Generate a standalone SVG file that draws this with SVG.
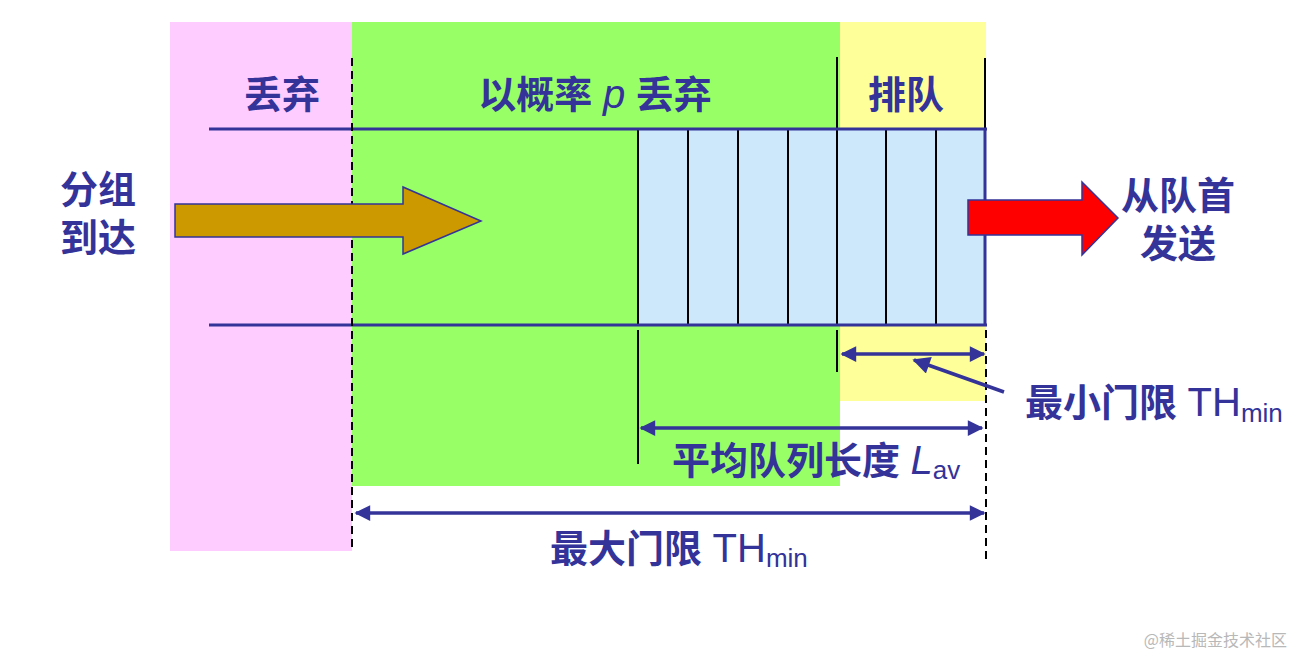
<svg xmlns="http://www.w3.org/2000/svg" width="1306" height="670" viewBox="0 0 1306 670">
<style>
.t{font-family:"Liberation Sans","Noto Sans CJK SC",sans-serif;font-size:38px;fill:#333399;font-weight:bold}
.lat{font-size:40px;font-weight:normal}
.sub{font-size:26px;font-weight:normal}
.nav{stroke:#333399;stroke-width:3;fill:none}
.blk{stroke:#000;stroke-width:2;fill:none}
.dash{stroke:#000;stroke-width:2;stroke-dasharray:8,5;fill:none}
.dim{stroke:#333399;stroke-width:3.5;fill:none;marker-start:url(#ah);marker-end:url(#ah)}
</style>
<defs>
<marker id="ah" viewBox="0 0 10 10" refX="9" refY="5" markerWidth="6.5" markerHeight="4.5" orient="auto-start-reverse" markerUnits="strokeWidth">
<path d="M0,0 L10,5 L0,10 Z" fill="#333399"/>
</marker>
<marker id="ah1" viewBox="0 0 10 10" refX="9" refY="5" markerWidth="7" markerHeight="5" orient="auto" markerUnits="strokeWidth">
<path d="M0,0 L10,5 L0,10 Z" fill="#333399"/>
</marker>
</defs>
<rect width="1306" height="670" fill="#fff"/>
<g id="zones">
<rect x="170" y="22" width="182" height="529" fill="#ffccff"/>
<rect x="352" y="22" width="488" height="464" fill="#99ff66"/>
<rect x="840" y="22" width="146" height="379" fill="#ffff99"/>
</g>
<g id="queue">
<rect x="638" y="129" width="348" height="196" fill="#cce8fa"/>
<g class="blk">
<line x1="638" y1="129" x2="638" y2="325"/>
<line x1="688" y1="129" x2="688" y2="325"/>
<line x1="738" y1="129" x2="738" y2="325"/>
<line x1="788" y1="129" x2="788" y2="325"/>
<line x1="837" y1="57" x2="837" y2="325"/>
<line x1="886" y1="129" x2="886" y2="325"/>
<line x1="936" y1="129" x2="936" y2="325"/>
<line x1="985" y1="58" x2="985" y2="129"/>
<line x1="638" y1="330" x2="638" y2="464"/>
<line x1="837" y1="330" x2="837" y2="372"/>
</g>
<g class="nav">
<line x1="209" y1="129" x2="987" y2="129"/>
<line x1="209" y1="325" x2="987" y2="325"/>
<line x1="985" y1="129" x2="985" y2="325"/>
</g>
</g>
<g id="dashes" class="dash">
<line x1="352" y1="58" x2="352" y2="551"/>
<line x1="986" y1="330" x2="986" y2="564"/>
</g>
<g id="arrive-arrow">
<path d="M175,204 L403,204 L403,187 L481,221 L403,254 L403,237 L175,237 Z" fill="#cc9900" stroke="#333399" stroke-width="1.5"/>
</g>
<g id="send-arrow">
<path d="M968,200 L1082,200 L1082,182 L1118,218 L1082,255 L1082,235 L968,235 Z" fill="#ff0000" stroke="#333399" stroke-width="1.5"/>
</g>
<g id="connectors">
<line class="dim" x1="842" y1="354" x2="984" y2="354"/>
<line class="dim" x1="641" y1="428" x2="982" y2="428"/>
<line class="dim" x1="356" y1="513" x2="984" y2="513"/>
<line x1="1004" y1="392" x2="914" y2="360" stroke="#333399" stroke-width="3.5" marker-end="url(#ah1)"/>
</g>
<g id="labels">
<text class="t" x="282" y="108" text-anchor="middle">丢弃</text>
<text class="t" x="595" y="108" text-anchor="middle">以概率 <tspan class="lat" font-style="italic">p</tspan> 丢弃</text>
<text class="t" x="906" y="108" text-anchor="middle">排队</text>
<text class="t" x="98" y="203" text-anchor="middle">分组</text>
<text class="t" x="98" y="251" text-anchor="middle">到达</text>
<text class="t" x="1178" y="209" text-anchor="middle">从队首</text>
<text class="t" x="1178" y="257" text-anchor="middle">发送</text>
<text class="t" x="1025" y="416">最小门限 <tspan class="lat">TH</tspan><tspan class="sub" dy="6">min</tspan></text>
<text class="t" x="672" y="474">平均队列长度 <tspan class="lat" font-style="italic">L</tspan><tspan class="sub" dy="5">av</tspan></text>
<text class="t" x="550" y="562">最大门限 <tspan class="lat">TH</tspan><tspan class="sub" dy="5">min</tspan></text>
<text x="1287" y="646" text-anchor="end" font-family="'Noto Sans CJK SC',sans-serif" font-size="16" fill="#b8b8b8">@稀土掘金技术社区</text>
</g>
</svg>
